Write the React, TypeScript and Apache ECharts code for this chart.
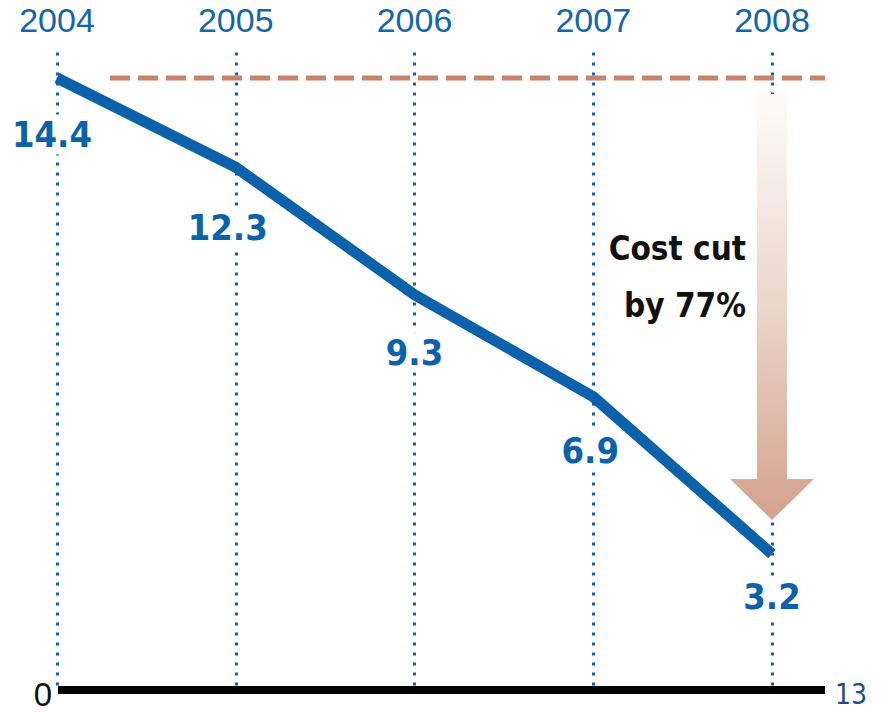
import React, { useEffect, useRef } from 'react';
import * as echarts from 'echarts';

const years = ['2004', '2005', '2006', '2007', '2008'];
const costs = [14.4, 12.3, 9.3, 6.9, 3.2];
const yMin = 0;
const yMax = 15;
const scaleEndLabels = ['0', '13'];
const annotationLines = ['Cost cut', 'by 77%'];

const BLUE = '#0b62ab';
const NARROW = '"Liberation Sans Narrow", "DejaVu Sans Condensed", "Liberation Sans", sans-serif';

export default function App() {
  const ref = useRef<HTMLDivElement>(null);

  useEffect(() => {
    document.body.style.margin = '0';
    if (!ref.current) return;
    const chart = echarts.init(ref.current, undefined, { renderer: 'svg' });

    const labelShift = [
      [-5, 22],
      [-8, 26],
      [0, 23],
      [-3, 19],
      [0, 8],
    ];

    chart.setOption({
      animation: false,
      backgroundColor: '#ffffff',
      grid: { left: 57, right: 109, top: 52.5, bottom: 22, containLabel: false },
      xAxis: {
        type: 'category',
        data: years,
        position: 'top',
        boundaryGap: false,
        axisLine: { show: false },
        axisTick: { show: false },
        axisLabel: {
          color: '#1565a9',
          fontSize: 34,
          fontFamily: '"Liberation Sans", sans-serif',
          margin: 16,
        },
        splitLine: {
          show: true,
          lineStyle: { color: '#1262ad', width: 3, type: [3, 7] },
        },
      },
      yAxis: {
        type: 'value',
        min: yMin,
        max: yMax,
        show: false,
        splitLine: { show: false },
      },
      series: [
        {
          type: 'line',
          data: costs.map((v, i) => ({
            value: v,
            label: { offset: labelShift[i] },
          })),
          symbol: 'circle',
          symbolSize: 1,
          showSymbol: true,
          itemStyle: { color: BLUE },
          lineStyle: { color: BLUE, width: 11, cap: 'butt', join: 'round' },
          z: 3,
          label: {
            show: true,
            position: 'bottom',
            distance: 14,
            color: BLUE,
            fontSize: 36,
            fontWeight: 'bold',
            fontFamily: NARROW,
            backgroundColor: '#ffffff',
            padding: [2, 3],
            formatter: (p: any) => String(p.value),
          },
        },
      ],
    });

    const yTop = chart.convertToPixel({ yAxisIndex: 0 }, costs[0]) as number;
    const yEnd = chart.convertToPixel({ yAxisIndex: 0 }, costs[costs.length - 1]) as number;
    const y0 = chart.convertToPixel({ yAxisIndex: 0 }, yMin) as number;
    const xEnd = chart.convertToPixel({ xAxisIndex: 0 }, years[years.length - 1]) as number;
    const xStart = chart.convertToPixel({ xAxisIndex: 0 }, years[0]) as number;

    const arrowTop = yTop + 16;
    const tip = yEnd - 34;
    const headTop = tip - 41;
    const sw = 15;
    const hw = 42;

    chart.setOption({
      graphic: [
        {
          type: 'line',
          z: 2,
          shape: { x1: 110, y1: yTop, x2: 825, y2: yTop },
          style: { stroke: '#c8836a', lineWidth: 5, lineDash: [20, 8] },
        },
        {
          type: 'polygon',
          z: 5,
          shape: {
            points: [
              [xEnd - sw, arrowTop],
              [xEnd + sw, arrowTop],
              [xEnd + sw, headTop],
              [xEnd + hw, headTop],
              [xEnd, tip],
              [xEnd - hw, headTop],
              [xEnd - sw, headTop],
            ],
          },
          style: {
            fill: new echarts.graphic.LinearGradient(0, 0, 0, 1, [
              { offset: 0, color: '#fdfcfb' },
              { offset: 0.5, color: '#ecd5ca' },
              { offset: 1, color: '#d4a28c' },
            ]),
          },
        },
        {
          type: 'text',
          z: 6,
          style: {
            x: 746,
            y: 277,
            text: annotationLines.join('\n'),
            align: 'right',
            verticalAlign: 'middle',
            fontSize: 33,
            lineHeight: 57,
            fontWeight: 'bold',
            fontFamily: NARROW,
            fill: '#111111',
          },
        },
        {
          type: 'line',
          z: 4,
          shape: { x1: xStart + 1, y1: y0, x2: 825, y2: y0 },
          style: { stroke: '#000000', lineWidth: 8 },
        },
        {
          type: 'text',
          z: 6,
          style: {
            x: 52,
            y: 694,
            text: scaleEndLabels[0],
            align: 'right',
            verticalAlign: 'middle',
            fontSize: 33,
            fontFamily: '"Liberation Sans", sans-serif',
            fill: '#111111',
          },
        },
        {
          type: 'text',
          z: 6,
          style: {
            x: 835,
            y: 694,
            text: scaleEndLabels[1],
            align: 'left',
            verticalAlign: 'middle',
            fontSize: 28,
            fontFamily: NARROW,
            fill: '#1d4d88',
          },
        },
      ],
    });

    return () => chart.dispose();
  }, []);

  return <div ref={ref} style={{ width: 881, height: 712 }} />;
}
